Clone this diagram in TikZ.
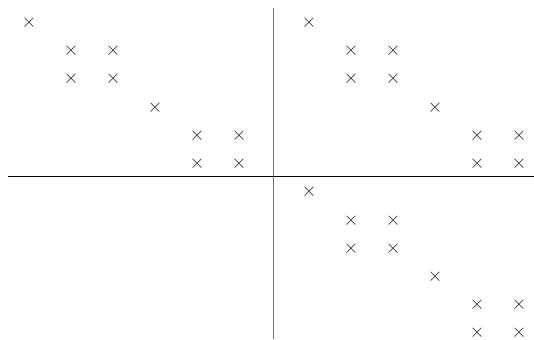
\documentclass[tikz,border=0pt]{standalone}
\begin{document}
\begin{tikzpicture}[x=0.75pt,y=-0.75pt,
  mk/.style={inner sep=0pt,font=\fontsize{13.5}{14}\selectfont,text=black!85}]
\useasboundingbox (0,0) rectangle (534,339);
\draw[line width=0.9pt, black!55] (273.5,8) coordinate (vt) -- (273.5,339) coordinate (vb);
\draw[line width=0.9pt] (8,176.5) coordinate (hl) -- (534,176.5) coordinate (hr);
\foreach \ox/\oy/\q in {0/0/a, 280/0/b, 280/169.5/c}{
  \foreach \cx/\cy/\n in {29/22.5/1, 71/51/2, 113/51/3, 71/79/4, 113/79/5, 155/107.5/6, 197/135.5/7, 239/135.5/8, 197/163.5/9, 239/163.5/10}{
    \node[mk] (\q\n) at (\cx+\ox,\cy+\oy) {$\times$};
  }
}
\end{tikzpicture}
\end{document}
